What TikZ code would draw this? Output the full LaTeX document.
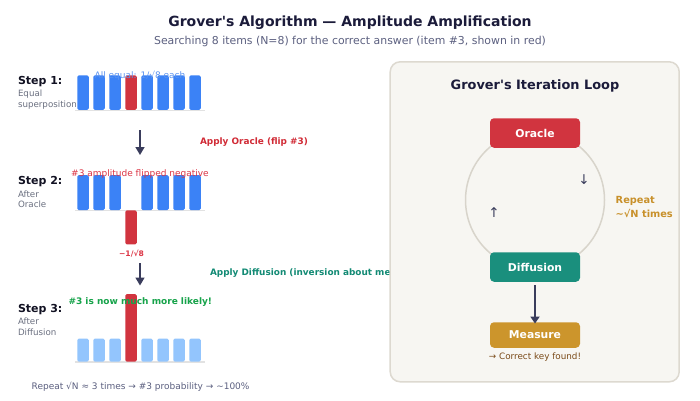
\documentclass[tikz,border=0pt]{standalone}
\usepackage{fontspec}
\setmainfont{DejaVu Sans}
\usetikzlibrary{arrows.meta}
\definecolor{titlec}{HTML}{1B1B3A}
\definecolor{subc}{HTML}{5C6080}
\definecolor{stepc}{HTML}{111122}
\definecolor{stepsub}{HTML}{6B7080}
\definecolor{barblue}{HTML}{3B82F6}
\definecolor{barlight}{HTML}{93C5FD}
\definecolor{barred}{HTML}{D1343F}
\definecolor{eqblue}{HTML}{5B93F0}
\definecolor{negred}{HTML}{DC3545}
\definecolor{orared}{HTML}{D12B36}
\definecolor{difteal}{HTML}{128A74}
\definecolor{likgreen}{HTML}{16A34A}
\definecolor{arrowc}{HTML}{3A3D5C}
\definecolor{panelfill}{HTML}{F7F6F2}
\definecolor{panelline}{HTML}{DDD9D0}
\definecolor{circc}{HTML}{D8D4CB}
\definecolor{diffbox}{HTML}{1A8F7D}
\definecolor{measbox}{HTML}{CC952C}
\definecolor{repc}{HTML}{C8902A}
\definecolor{foundc}{HTML}{7A4A18}
\definecolor{basec}{HTML}{E2E2E2}
\tikzset{
  txt/.style={inner sep=0pt, outer sep=0pt},
  steplab/.style={txt, anchor=base west, font=\fontsize{11}{13}\selectfont\bfseries, text=stepc},
  stepsublab/.style={txt, anchor=base west, font=\fontsize{8.7}{10}\selectfont, text=stepsub},
  bar/.style={rounded corners=1.5pt, minimum width=11.5pt, inner sep=0pt, outer sep=0pt},
  baseln/.style={draw=basec, line width=1.5pt},
  flowarrow/.style={draw=arrowc, line width=1.6pt, -{Triangle[width=9pt,length=8pt]}},
  loopbox/.style={rounded corners=4pt, minimum width=90pt, inner sep=0pt, text=white, font=\fontsize{10.8}{12}\selectfont\bfseries},
}
\begin{document}
\begin{tikzpicture}[x=1pt,y=-1pt]
\useasboundingbox (0,0) rectangle (700,400);
\fill[white] (0,0) rectangle (700,400);

% titles
\node[txt, anchor=base, font=\fontsize{14}{16}\selectfont\bfseries, text=titlec] (title) at (350,26) {Grover\textquotesingle s Algorithm — Amplitude Amplification};
\node[txt, anchor=base, font=\fontsize{10.9}{13}\selectfont, text=subc] (subtitle) at (350,44) {Searching 8 items (N=8) for the correct answer (item \#3, shown in red)};

% step labels
\node[steplab] (s1) at (18,84) {Step 1:};
\node[stepsublab] (s1a) at (18,96.2) {Equal};
\node[stepsublab] (s1b) at (18,107.2) {superposition};
\node[steplab] (s2) at (18,184) {Step 2:};
\node[stepsublab] (s2a) at (18,197.2) {After};
\node[stepsublab] (s2b) at (18,207.5) {Oracle};
\node[steplab] (s3) at (18,312.3) {Step 3:};
\node[stepsublab] (s3a) at (18,324.8) {After};
\node[stepsublab] (s3b) at (18,335.8) {Diffusion};

% baselines
\coordinate (bl1a) at (75,110.3); \coordinate (bl1b) at (205,110.3);
\coordinate (bl2a) at (75,210.5); \coordinate (bl2b) at (205,210.5);
\coordinate (bl3a) at (75,362); \coordinate (bl3b) at (205,362);
\draw[baseln] (bl1a) -- (bl1b);
\draw[baseln] (bl2a) -- (bl2b);
\draw[baseln] (bl3a) -- (bl3b);

% step 1 bars
\foreach \i in {0,1,2,4,5,6,7} {
  \node[bar, fill=barblue, minimum height=34.5pt, anchor=south] (b1-\i) at (83+16*\i,109.8) {};
}
\node[bar, fill=barred, minimum height=34.5pt, anchor=south] (b1-3) at (131,109.8) {};
\node[txt, anchor=base, font=\fontsize{9}{11}\selectfont, text=eqblue] (eqlab) at (140,78.2) {All equal: 1/√8 each};

% step 2 bars
\foreach \i in {0,1,2,4,5,6,7} {
  \node[bar, fill=barblue, minimum height=35pt, anchor=south] (b2-\i) at (83+16*\i,210) {};
}
\node[bar, fill=barred, minimum height=34pt, anchor=north] (b2-3) at (131,210.3) {};
\node[txt, anchor=base, font=\fontsize{9}{11}\selectfont, text=negred] (neglab) at (140,176.5) {\#3 amplitude flipped negative};
\node[txt, anchor=base, font=\fontsize{7.6}{9}\selectfont\bfseries, text=negred] (negval) at (131.5,256) {−1/√8};

% step 3 bars
\foreach \i in {0,1,2,4,5,6,7} {
  \node[bar, fill=barlight, minimum height=23pt, anchor=south] (b3-\i) at (83+16*\i,361.7) {};
}
\node[bar, fill=barred, minimum height=67.7pt, anchor=south] (b3-3) at (131,361.7) {};
\node[txt, anchor=base, font=\fontsize{9}{11}\selectfont\bfseries, text=likgreen] (liklab) at (140.3,304.2) {\#3 is now much more likely!};

% arrows between steps
\coordinate (a1s) at (140,130); \coordinate (a1e) at (140,155);
\draw[flowarrow] (a1s) -- (a1e);
\coordinate (a2s) at (140,263); \coordinate (a2e) at (140,285.5);
\draw[flowarrow] (a2s) -- (a2e);
\node[txt, anchor=base west, font=\fontsize{8.9}{11}\selectfont\bfseries, text=orared] (oralab) at (200,144) {Apply Oracle (flip \#3)};
\node[txt, anchor=base west, font=\fontsize{8.9}{11}\selectfont\bfseries, text=difteal] (diflab) at (210,275) {Apply Diffusion (inversion about mean)};

% bottom note
\node[txt, anchor=base west, font=\fontsize{9}{11}\selectfont, text=subc] (note) at (31.7,389.9) {Repeat √N ≈ 3 times → \#3 probability → \textasciitilde 100\%};

% panel
\node[draw=panelline, fill=panelfill, line width=1.5pt, rounded corners=10pt, minimum width=289pt, minimum height=320pt, inner sep=0pt] (panel) at (534.7,221.8) {};
\node[txt, anchor=base, font=\fontsize{12.9}{15}\selectfont\bfseries, text=titlec] (ptitle) at (535,89.7) {Grover\textquotesingle s Iteration Loop};

\node[circle, draw=circc, line width=1.5pt, minimum size=139pt, inner sep=0pt] (loop) at (535,200) {};

\node[loopbox, fill=barred, minimum height=29.5pt] (oracle) at (535,133) {Oracle};
\node[loopbox, fill=diffbox, minimum height=29.5pt] (diffusion) at (535,267) {Diffusion};
\node[loopbox, fill=measbox, minimum height=25.5pt] (measure) at (535,335) {Measure};

\draw[draw=arrowc, line width=2pt, -{Triangle[width=9pt,length=7pt]}, shorten <=3.3pt, shorten >=-1.5pt] (diffusion) -- (measure);

\node[txt, font=\fontsize{13.5}{15}\selectfont, text=arrowc] (downar) at (584,179.5) {↓};
\node[txt, font=\fontsize{13.5}{15}\selectfont, text=arrowc] (upar) at (494,213) {↑};

\node[txt, anchor=base west, font=\fontsize{9.8}{12}\selectfont\bfseries, text=repc] (rep1) at (615.7,203.6) {Repeat};
\node[txt, anchor=base west, font=\fontsize{9.8}{12}\selectfont\bfseries, text=repc] (rep2) at (615.7,217.9) {\textasciitilde √N times};

\node[txt, anchor=base, font=\fontsize{8.8}{11}\selectfont, text=foundc] (found) at (535,359.8) {→ Correct key found!};
\end{tikzpicture}
\end{document}
